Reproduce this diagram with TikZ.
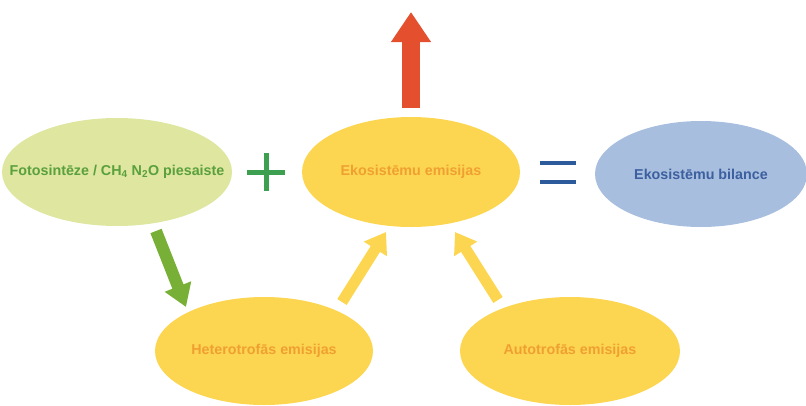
\documentclass[tikz,border=0pt]{standalone}
\usepackage{fontspec}
\setmainfont{Liberation Sans}
\usetikzlibrary{shapes.geometric,arrows.meta}
\definecolor{ylw}{RGB}{252,214,80}
\definecolor{lgreen}{RGB}{222,230,160}
\definecolor{lblue}{RGB}{168,190,222}
\definecolor{orangetxt}{RGB}{240,160,50}
\definecolor{greentxt}{RGB}{90,160,60}
\definecolor{bluetxt}{RGB}{60,95,160}
\definecolor{plusgreen}{RGB}{60,160,80}
\definecolor{eqblue}{RGB}{45,90,155}
\definecolor{redarr}{RGB}{228,80,45}
\definecolor{greenarr}{RGB}{120,176,55}
\begin{document}
\begin{tikzpicture}[x=1pt,y=-1pt,
  oval/.style={ellipse,inner sep=0pt},
  txt/.style={font=\fontsize{14.3}{16}\selectfont\bfseries,inner sep=0pt},
  ]
\useasboundingbox (0,0) rectangle (806,405);
\node[oval,fill=lgreen,minimum width=230pt,minimum height=108pt,
  label={[txt,text=greentxt]center:Fotosintēze / CH\textsubscript{4} N\textsubscript{2}O piesaiste}] (fot) at (117,172) {};
\node[oval,fill=ylw,minimum width=218pt,minimum height=110pt,
  label={[txt,text=orangetxt]center:Ekosistēmu emisijas}] (eko) at (411,172) {};
\node[oval,fill=lblue,minimum width=212pt,minimum height=106pt,
  label={[txt,text=bluetxt]center:Ekosistēmu bilance}] (bil) at (701,174) {};
\node[oval,fill=ylw,minimum width=218pt,minimum height=108pt,
  label={[txt,text=orangetxt]center:Heterotrofās emisijas}] (het) at (264,351) {};
\node[oval,fill=ylw,minimum width=220pt,minimum height=108pt,
  label={[txt,text=orangetxt]center:Autotrofās emisijas}] (aut) at (570,351) {};
% plus
\node[inner sep=0pt,minimum size=38pt] (plus) at (266,172) {};
\draw[plusgreen,line width=5pt] (plus.west) -- (plus.east) (plus.north) -- (plus.south);
% equals
\node[inner sep=0pt,minimum width=35pt,minimum height=19pt] (eq) at (558,172.5) {};
\draw[eqblue,line width=4.5pt] (eq.north west) -- (eq.north east) (eq.south west) -- (eq.south east);
% arrows
\coordinate (rtail) at (411,108);
\coordinate (rtip) at (411,12);
\draw[redarr,line width=18pt,-{Triangle[width=38pt,length=30pt]}] (rtail) -- (rtip);
\coordinate (gtail) at (156,231);
\coordinate (gtip) at (186,307);
\draw[greenarr,line width=12pt,-{Triangle[width=27pt,length=22pt]}] (gtail) -- (gtip);
\coordinate (y1tail) at (342,302);
\coordinate (y1tip) at (386,232);
\draw[ylw,line width=11pt,-{Triangle[width=26pt,length=20pt]}] (y1tail) -- (y1tip);
\coordinate (y2tail) at (498,300);
\coordinate (y2tip) at (455,232);
\draw[ylw,line width=11pt,-{Triangle[width=26pt,length=20pt]}] (y2tail) -- (y2tip);
\end{tikzpicture}
\end{document}
